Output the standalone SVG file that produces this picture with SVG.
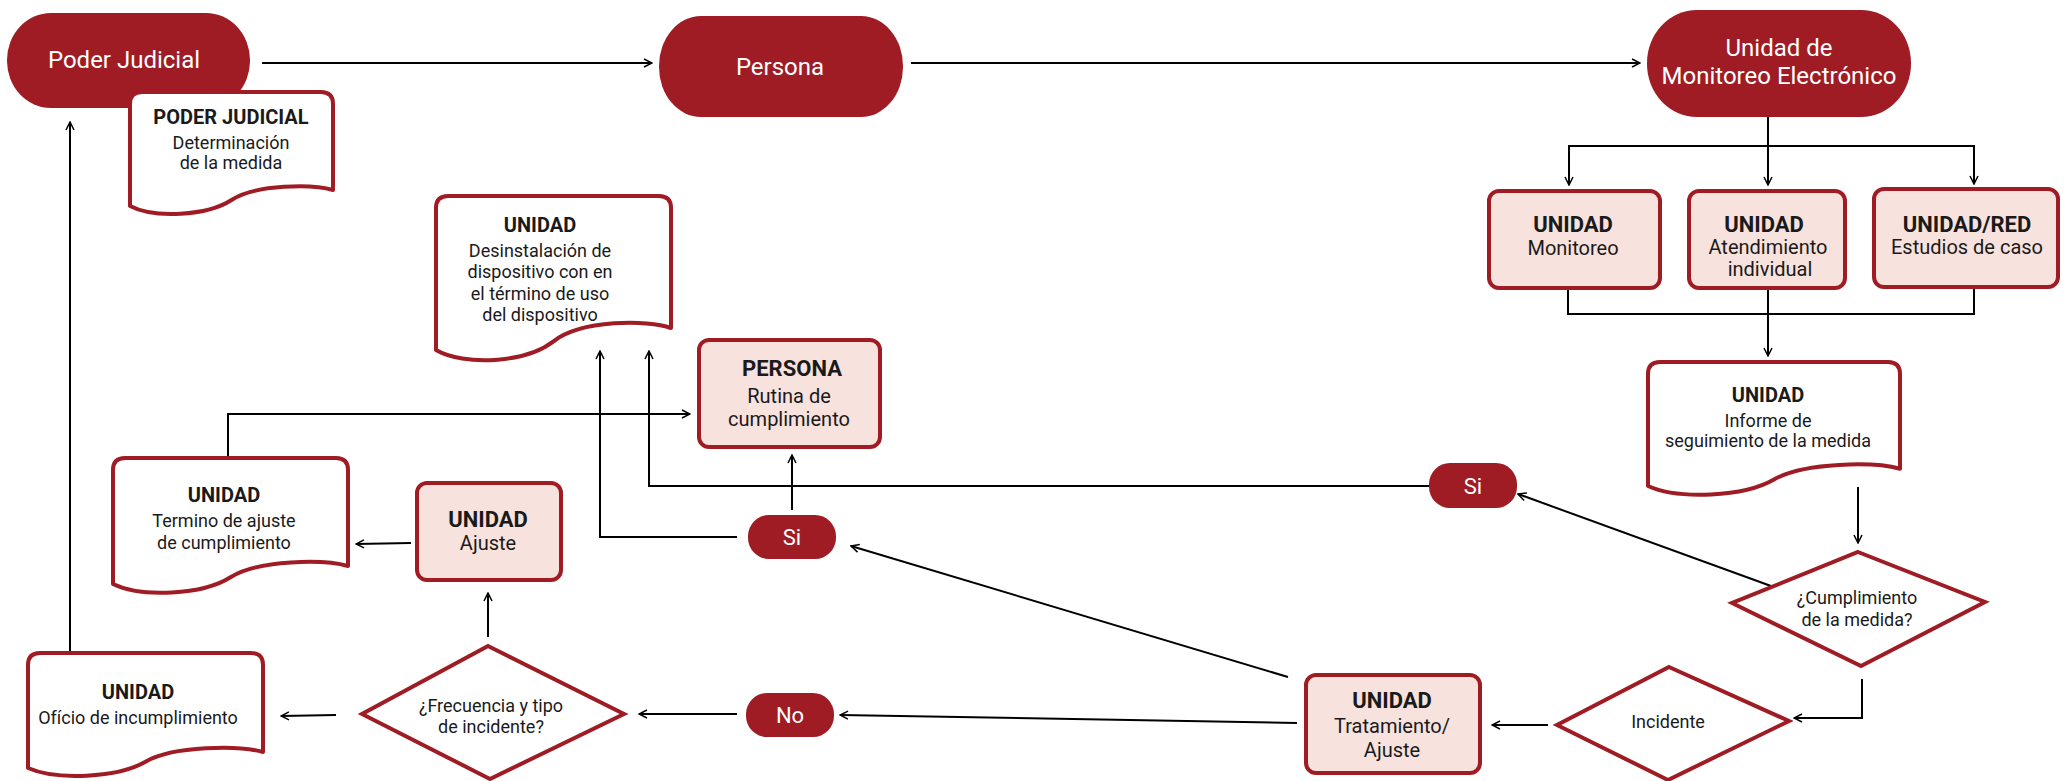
<svg xmlns="http://www.w3.org/2000/svg" width="2065" height="781" viewBox="0 0 2065 781">
<defs>
<style>
.term{fill:#a01c24}
.box{fill:#f8e2dd;stroke:#a01c24;stroke-width:4}
.doc{fill:#fff;stroke:#a01c24;stroke-width:4;stroke-linejoin:round}
.dia{fill:#fff;stroke:#a01c24;stroke-width:4}
.conn{fill:none;stroke:#000;stroke-width:2;marker-end:url(#arr)}
.line{fill:none;stroke:#000;stroke-width:2}
text{font-family:Roboto,"Liberation Sans",sans-serif;text-anchor:middle;fill:#1a1a1a}
.tw{fill:#fff;font-size:24px}
.pw{fill:#fff;font-size:22px}
.bb{font-weight:bold;font-size:22px}
.br{font-size:20px}
.db{font-weight:bold;font-size:20px}
.dr{font-size:18px}
</style>
<marker id="arr" viewBox="0 0 10 10" refX="9" refY="5" markerWidth="10" markerHeight="10" markerUnits="userSpaceOnUse" orient="auto">
<path d="M1,1 L9,5 L1,9" fill="none" stroke="#000" stroke-width="1.5"/>
</marker>
</defs>

<g id="connectors">
<path class="conn" d="M262,63 H652"/>
<path class="conn" d="M911,63 H1640"/>
<path class="conn" d="M1768,116 V185"/>
<path class="conn" d="M1768,146 H1569 V185"/>
<path class="conn" d="M1768,146 H1974 V184"/>
<path class="line" d="M1568,288 V314 H1974 V287"/>
<path class="conn" d="M1768,288 V356"/>
<path class="conn" d="M1858,487 V543"/>
<path class="conn" d="M1862,679 V718 H1794"/>
<path class="conn" d="M1548,725 H1492"/>
<path class="conn" d="M1297,723 L840,715"/>
<path class="conn" d="M737,714 H639"/>
<path class="conn" d="M488,637 V593"/>
<path class="conn" d="M411,543 L356,544"/>
<path class="conn" d="M336,715 L281,716"/>
<path class="conn" d="M70,653 V122"/>
<path class="conn" d="M228,458 V414 H690"/>
<path class="conn" d="M1288,677 L851,546"/>
<path class="conn" d="M792,510 V455"/>
<path class="conn" d="M737,537 H600 V351"/>
<path class="conn" d="M1429,486 H649 V351"/>
<path class="conn" d="M1771,586 L1518,494"/>
</g>

<g id="node-poder-judicial">
<rect class="term" x="7" y="13" width="243" height="95" rx="44" ry="47"/>
<text class="tw" x="124" y="68">Poder Judicial</text>
</g>

<g id="node-doc-poder">
<path class="doc" d="M130,206 V104 Q130,92 142,92 H321 Q333,92 333,104 V190 C313,184 256,184 231.5,200 C207,216 154,218.5 130,206 Z"/>
<text class="db" x="231" y="124">PODER JUDICIAL</text>
<text class="dr" x="231" y="149">Determinación</text>
<text class="dr" x="231" y="169">de la medida</text>
</g>

<g id="node-persona">
<rect class="term" x="659" y="16" width="244" height="101" rx="42" ry="50"/>
<text class="tw" x="780" y="75">Persona</text>
</g>

<g id="node-unidad-monitoreo">
<rect class="term" x="1647" y="10" width="264" height="107" rx="50" ry="53"/>
<text class="tw" x="1779" y="56">Unidad de</text>
<text class="tw" x="1779" y="84">Monitoreo Electrónico</text>
</g>

<g id="node-monitoreo">
<rect class="box" x="1489" y="191" width="171" height="97" rx="10"/>
<text class="bb" x="1573" y="232">UNIDAD</text>
<text class="br" x="1573" y="255">Monitoreo</text>
</g>

<g id="node-atendimiento">
<rect class="box" x="1689" y="191" width="156" height="97" rx="10"/>
<text class="bb" x="1764" y="232">UNIDAD</text>
<text class="br" x="1768" y="254">Atendimiento</text>
<text class="br" x="1770" y="276">individual</text>
</g>

<g id="node-estudios">
<rect class="box" x="1874" y="189" width="184" height="98" rx="10"/>
<text class="bb" x="1967" y="232">UNIDAD/RED</text>
<text class="br" x="1967" y="254">Estudios de caso</text>
</g>

<g id="node-informe">
<path class="doc" d="M1648,486 V374 Q1648,362 1660,362 H1888 Q1900,362 1900,374 V468.7 C1874.8,461.9 1804.2,461.9 1774,479.5 C1743.8,497 1678.2,499.7 1648,486 Z"/>
<text class="db" x="1768" y="402">UNIDAD</text>
<text class="dr" x="1768" y="427">Informe de</text>
<text class="dr" x="1768" y="447">seguimiento de la medida</text>
</g>

<g id="node-cumplimiento">
<polygon class="dia" points="1858,552 1985,602 1861,666 1732,603"/>
<text class="dr" x="1857" y="604">¿Cumplimiento</text>
<text class="dr" x="1857" y="626">de la medida?</text>
</g>

<g id="node-incidente">
<polygon class="dia" points="1669,667 1789,721 1668,780 1557,725"/>
<text class="dr" x="1668" y="728">Incidente</text>
</g>

<g id="node-tratamiento">
<rect class="box" x="1306" y="675" width="174" height="98" rx="10"/>
<text class="bb" x="1392" y="708">UNIDAD</text>
<text class="br" x="1392" y="733">Tratamiento/</text>
<text class="br" x="1392" y="757">Ajuste</text>
</g>

<g id="node-si-right">
<rect class="term" x="1429" y="463" width="88" height="45" rx="21"/>
<text class="pw" x="1473" y="494">Si</text>
</g>

<g id="node-si-mid">
<rect class="term" x="748" y="515" width="88" height="44" rx="21"/>
<text class="pw" x="792" y="545">Si</text>
</g>

<g id="node-no">
<rect class="term" x="746" y="693" width="88" height="44" rx="21"/>
<text class="pw" x="790" y="723">No</text>
</g>

<g id="node-persona-rutina">
<rect class="box" x="699" y="340" width="181" height="107" rx="10"/>
<text class="bb" x="792" y="376">PERSONA</text>
<text class="br" x="789" y="403">Rutina de</text>
<text class="br" x="789" y="426">cumplimiento</text>
</g>

<g id="node-desinstalacion">
<path class="doc" d="M436,350 V208 Q436,196 448,196 H659 Q671,196 671,208 V328 C647.5,319.6 581.7,319.6 553.5,341.3 C525.3,363 464.2,366.3 436,350 Z"/>
<text class="db" x="540" y="232">UNIDAD</text>
<text class="dr" x="540" y="257">Desinstalación de</text>
<text class="dr" x="540" y="278">dispositivo con en</text>
<text class="dr" x="540" y="300">el término de uso</text>
<text class="dr" x="540" y="321">del dispositivo</text>
</g>

<g id="node-frecuencia">
<polygon class="dia" points="488,646 624,714 490,779 362,714"/>
<text class="dr" x="491" y="712">¿Frecuencia y tipo</text>
<text class="dr" x="491" y="733">de incidente?</text>
</g>

<g id="node-ajuste">
<rect class="box" x="417" y="483" width="144" height="97" rx="10"/>
<text class="bb" x="488" y="527">UNIDAD</text>
<text class="br" x="488" y="550">Ajuste</text>
</g>

<g id="node-termino">
<path class="doc" d="M113,584 V470 Q113,458 125,458 H336 Q348,458 348,470 V566 C324.5,559.4 258.7,559.4 230.5,577.2 C202.3,595 141.2,597.7 113,584 Z"/>
<text class="db" x="224" y="502">UNIDAD</text>
<text class="dr" x="224" y="527">Termino de ajuste</text>
<text class="dr" x="224" y="549">de cumplimiento</text>
</g>

<g id="node-oficio">
<path class="doc" d="M28,768 V665 Q28,653 40,653 H251 Q263,653 263,665 V752 C239.5,745.5 173.7,745.5 145.5,761.75 C117.3,778 56.2,780.5 28,768 Z"/>
<text class="db" x="138" y="699">UNIDAD</text>
<text class="dr" x="138" y="724">Ofício de incumplimiento</text>
</g>
</svg>
